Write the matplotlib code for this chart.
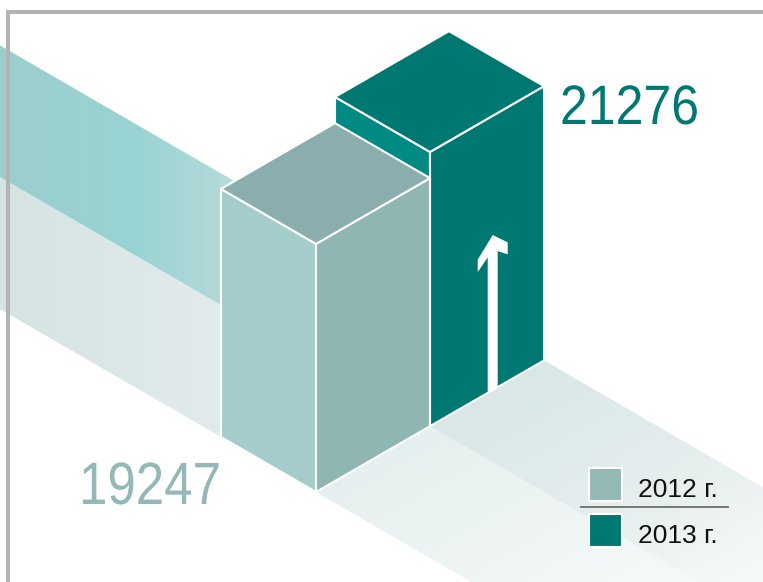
import numpy as np
import matplotlib.pyplot as plt
from matplotlib.patches import Polygon, Rectangle
from matplotlib.colors import LinearSegmentedColormap
from matplotlib.patheffects import AbstractPathEffect
from matplotlib.transforms import Affine2D

# data
years = ['2012 г.', '2013 г.']
values = [19247, 21276]

# styles
top_colors = ['#8aadad', '#007872']
left_colors = ['#a3cccb', '#008a84']
right_colors = ['#90b6b4', '#007872']
label_colors = ['#94b8b6', '#007872']
FONT = ['Liberation Sans Narrow', 'Liberation Sans', 'DejaVu Sans']

W, H = 763, 582
fig = plt.figure(figsize=(W / 100, H / 100), dpi=100)
ax = fig.add_axes([0, 0, 1, 1])

# isometric projection: u runs down-right, v up-right, z up
ORIGIN = np.array([221.0, 437.0])
U = np.array([95.0, 55.0])
V = np.array([114.0, -65.8])
ZSCALE = 0.01289  # px per unit of value
M_inv = np.linalg.inv(np.column_stack([U, V]))


def proj(u, v, z=0.0):
    p = ORIGIN + u * U + v * V
    return (p[0], p[1] - z * ZSCALE)


class Squeeze(AbstractPathEffect):
    """Condense glyphs horizontally around x0 (display px)."""

    def __init__(self, sx, x0):
        super().__init__()
        self.sx = sx
        self.x0 = x0

    def draw_path(self, renderer, gc, tpath, affine, rgbFace=None):
        t = affine + Affine2D().translate(-self.x0, 0).scale(self.sx, 1).translate(self.x0, 0)
        renderer.draw_path(gc, tpath, t, rgbFace)


xs, ys = np.meshgrid(np.arange(W) + 0.5, np.arange(H) + 0.5)
uv = np.tensordot(M_inv, np.stack([xs - ORIGIN[0], ys - ORIGIN[1]]), axes=1)
U_GRID = uv[0]


def gradient_fill(pts, field, stops, zorder=1):
    poly = Polygon(pts, closed=True, facecolor='none', edgecolor='none')
    ax.add_patch(poly)
    cmap = LinearSegmentedColormap.from_list('g', stops)
    im = ax.imshow(np.clip(field, 0, 1), cmap=cmap, vmin=0, vmax=1,
                   extent=(0, W, H, 0), interpolation='bilinear', zorder=zorder)
    im.set_clip_path(poly)


# floor strips behind the bars (left)
n = len(values)
far = -8
teal = [proj(far, 1), proj(0, 1), proj(0, 2), proj(far, 2)]
gray = [proj(far, 0), proj(0, 0), proj(0, 1), proj(far, 1)]
gradient_fill(teal, xs / 221.0,
              [(0, '#9ccece'), (0.6, '#99d3d3'), (1, '#b3d9d9')])
gradient_fill(gray, xs / 221.0,
              [(0, '#d5e3e3'), (1, '#e2ebeb')])

# floor strips in front of the bars (right)
near = [(0, '#e6efef'), (0.4, '#eef4f4'), (1, '#fbfdfd')]
near2 = [(0, '#d9e7e7'), (0.5, '#e6eeee'), (1, '#fbfdfd')]
for i, stops in enumerate([near, near2]):
    pts = [proj(1, i), proj(8, i), proj(8, i + 1), proj(1, i + 1)]
    gradient_fill(pts, (U_GRID - 1) / 3.5, stops)

# bars, back one first
for i in reversed(range(n)):
    h = values[i]
    u0, u1, v0, v1 = 0, 1, i, i + 1
    faces = [
        ([proj(u0, v0, 0), proj(u1, v0, 0), proj(u1, v0, h), proj(u0, v0, h)], left_colors[i]),
        ([proj(u1, v0, 0), proj(u1, v1, 0), proj(u1, v1, h), proj(u1, v0, h)], right_colors[i]),
        ([proj(u0, v0, h), proj(u1, v0, h), proj(u1, v1, h), proj(u0, v1, h)], top_colors[i]),
    ]
    for pts, c in faces:
        ax.add_patch(Polygon(pts, closed=True, facecolor=c, edgecolor='white',
                             lw=1.5, joinstyle='round', zorder=3))

# growth arrow on the front face of the 2013 bar
vc = 1.55
arrow = [(0, 155), (15, 139), (15, 127), (5, 136), (5, 0),
         (-5, 0), (-5, 135.5), (-15, 126.5), (-15, 139)]
arrow_pts = [proj(1, vc + dx / V[0], zp / ZSCALE) for dx, zp in arrow]
ax.add_patch(Polygon(arrow_pts, closed=True, facecolor='white',
                     edgecolor='none', zorder=4))

# value labels (condensed like the original typeface)
ax.text(79, 504, f'{values[0]}', color=label_colors[0], fontsize=43,
        family=FONT, ha='left', va='baseline', zorder=5,
        path_effects=[Squeeze(0.855, 79)])
ax.text(560, 124, f'{values[1]}', color=label_colors[1], fontsize=40,
        family=FONT, ha='left', va='baseline', zorder=5,
        path_effects=[Squeeze(0.9, 560)])

# legend
for i, yr in enumerate(years):
    y0 = 468 + i * 46
    ax.add_patch(Rectangle((589, y0), 33, 33, facecolor=label_colors[i],
                           edgecolor='white', lw=1.5, zorder=5))
    ax.text(638, y0 + 29, yr, color='#111111', fontsize=19, family=FONT,
            ha='left', va='baseline', zorder=5)
ax.plot([581, 728], [507, 507], color='#6d6d6d', lw=1.3, zorder=5)

# frame
ax.plot([8, 8, W + 5], [H + 5, 12, 12], color='#b3b3b3', lw=2.9,
        solid_joinstyle='miter', zorder=6)

ax.set_xlim(0, W)
ax.set_ylim(H, 0)
ax.set_aspect('auto')
ax.axis('off')
fig.savefig('out.png', dpi=100, facecolor='white')
